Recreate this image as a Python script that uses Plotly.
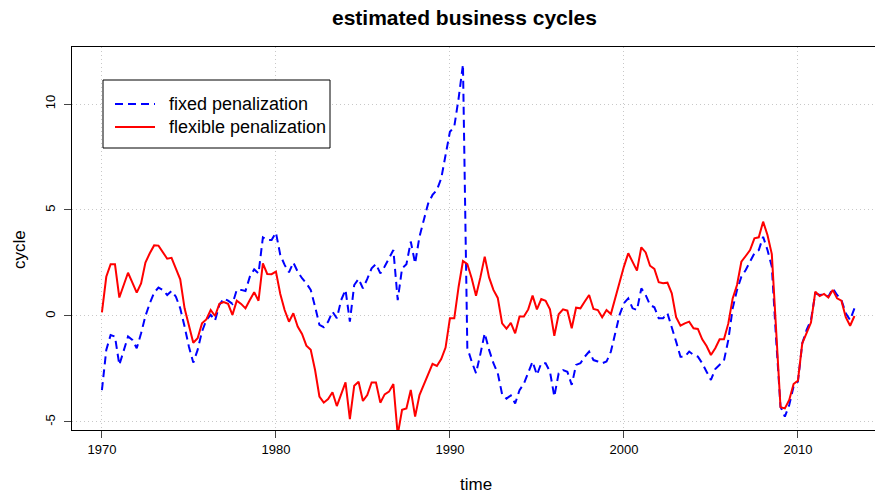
import plotly.graph_objects as go

# ---- data (quarterly, 1970Q1 .. 2013Q2) ----
start_year = 1970
fixed_pen = [
    -3.50, -1.60, -0.90, -0.97,   # 1970
    -2.31, -1.60, -0.97, -1.13,   # 1971
    -1.52, -0.82, 0.00, 0.60,     # 1972
    1.10, 1.34, 1.23, 0.99,       # 1973
    1.18, 0.91, 0.36, -0.50,      # 1974
    -1.45, -2.20, -1.60, -0.74,   # 1975
    -0.19, 0.05, -0.22, 0.52,     # 1976
    0.83, 0.72, 0.57, 1.23,       # 1977
    1.23, 1.18, 1.85, 2.20,       # 1978
    2.01, 3.71, 3.58, 3.58,       # 1979
    3.93, 2.88, 2.41, 2.06,       # 1980
    2.52, 2.09, 1.78, 1.54,       # 1981
    1.23, 0.44, -0.42, -0.53,     # 1982
    -0.27, 0.20, -0.11, 0.75,     # 1983
    1.23, -0.27, 1.46, 1.75,      # 1984
    1.30, 1.75, 2.25, 2.45,       # 1985
    2.01, 2.33, 2.72, 3.11,       # 1986
    0.75, 2.25, 2.44, 3.51,       # 1987
    2.48, 3.74, 4.53, 5.31,       # 1988
    5.71, 5.94, 6.49, 7.59,       # 1989
    8.69, 8.93, 10.27, 11.87,     # 1990
    -1.50, -2.15, -2.70, -1.80,   # 1991
    -0.82, -1.60, -2.23, -2.70,   # 1992
    -3.70, -3.90, -3.75, -4.13,   # 1993
    -3.50, -3.20, -2.70, -2.15,   # 1994
    -2.78, -2.23, -2.23, -2.63,   # 1995
    -3.80, -2.70, -2.55, -2.63,   # 1996
    -3.25, -2.31, -2.23, -1.92,   # 1997
    -1.68, -2.08, -2.15, -2.23,   # 1998
    -2.15, -1.68, -0.82, 0.05,    # 1999
    0.60, 0.83, 0.36, 0.28,       # 2000
    1.30, 0.99, 0.52, 0.41,       # 2001
    -0.11, -0.11, 0.13, -0.50,    # 2002
    -1.21, -1.92, -1.92, -1.68,   # 2003
    -1.84, -1.92, -2.23, -2.63,   # 2004
    -3.02, -2.50, -2.30, -2.10,   # 2005
    -1.13, 0.36, 1.23, 1.85,      # 2006
    2.17, 2.56, 2.96, 3.11,       # 2007
    3.74, 3.11, 2.33, -1.13,      # 2008
    -4.28, -4.75, -4.20, -3.33,   # 2009
    -3.10, -1.29, -0.66, -0.19,   # 2010
    1.07, 0.99, 1.02, 0.91,       # 2011
    1.30, 0.99, 0.75, 0.13,       # 2012
    -0.19, 0.36,                  # 2013
]
flexible_pen = [
    0.17, 1.85, 2.44, 2.44,       # 1970
    0.87, 1.46, 2.04, 1.57,       # 1971
    1.10, 1.54, 2.52, 2.96,       # 1972
    3.33, 3.32, 3.03, 2.70,       # 1973
    2.74, 2.25, 1.73, 0.36,       # 1974
    -0.50, -1.26, -1.05, -0.35,   # 1975
    -0.16, 0.28, 0.00, 0.57,      # 1976
    0.65, 0.57, 0.05, 0.72,       # 1977
    0.57, 0.36, 0.75, 1.12,       # 1978
    0.72, 2.48, 1.98, 1.97,       # 1979
    2.09, 1.04, 0.28, -0.27,      # 1980
    0.13, -0.50, -0.85, -1.40,    # 1981
    -1.60, -2.55, -3.80, -4.09,   # 1982
    -3.92, -3.60, -4.25, -3.68,   # 1983
    -3.13, -4.87, -3.29, -3.10,   # 1984
    -4.01, -3.73, -3.14, -3.14,   # 1985
    -4.09, -3.70, -3.57, -3.21,   # 1986
    -5.60, -4.43, -4.36, -3.49,   # 1987
    -4.75, -3.73, -3.25, -2.75,   # 1988
    -2.26, -2.36, -2.03, -1.49,   # 1989
    -0.11, -0.11, 1.38, 2.59,     # 1990
    2.45, 1.78, 0.95, 1.82,       # 1991
    2.80, 1.82, 1.23, 0.85,       # 1992
    -0.35, -0.60, -0.33, -0.82,   # 1993
    -0.03, -0.03, 0.31, 0.96,     # 1994
    0.31, 0.80, 0.72, 0.31,       # 1995
    -0.94, 0.08, 0.31, 0.25,      # 1996
    -0.58, 0.39, 0.36, 0.68,      # 1997
    0.99, 0.33, 0.28, -0.06,      # 1998
    0.28, 0.09, 0.83, 1.62,       # 1999
    2.33, 2.96, 2.52, 2.14,       # 2000
    3.24, 3.00, 2.37, 2.22,       # 2001
    1.59, 1.54, 1.57, 1.07,       # 2002
    -0.06, -0.46, -0.35, -0.27,   # 2003
    -0.58, -0.61, -1.10, -1.42,   # 2004
    -1.84, -1.52, -1.10, -1.10,   # 2005
    -0.35, 0.83, 1.46, 2.56,      # 2006
    2.83, 3.11, 3.66, 3.71,       # 2007
    4.45, 3.82, 2.92, -0.69,      # 2008
    -4.31, -4.36, -3.96, -3.21,   # 2009
    -3.05, -1.29, -0.79, -0.31,   # 2010
    1.15, 0.94, 1.04, 0.87,       # 2011
    1.23, 0.83, 0.72, -0.06,      # 2012
    -0.46, 0.00,                  # 2013
]
time = [start_year + i / 4 for i in range(len(fixed_pen))]
x_ticks = [1970, 1980, 1990, 2000, 2010]
y_ticks = [-5, 0, 5, 10]
series_names = ["fixed penalization", "flexible penalization"]

# ---- layout geometry (pixels) ----
W, H = 875, 494
L, R, T, B = 72, 0, 47, 64
PW, PH = W - L - R, H - T - B
FONT = "Liberation Sans, Arial, Helvetica, sans-serif"


def px(xp):
    return (xp - L) / PW


def py(yp):
    return (H - B - yp) / PH


BLUE, RED = "#0000FF", "#FF0000"
DASH = "8px,5px"
GRID_DOT = "1px,3px"

fig = go.Figure()
fig.add_trace(go.Scatter(x=time, y=fixed_pen, mode="lines", name=series_names[0],
                         line=dict(color=BLUE, width=2, dash=DASH),
                         showlegend=False))
fig.add_trace(go.Scatter(x=time, y=flexible_pen, mode="lines", name=series_names[1],
                         line=dict(color=RED, width=2),
                         showlegend=False))

fig.update_layout(
    width=W, height=H,
    margin=dict(l=L, r=R, t=T, b=B, pad=0),
    paper_bgcolor="white", plot_bgcolor="white",
    font=dict(family=FONT, color="black", size=13),
    showlegend=False,
)
fig.update_xaxes(
    range=[1968.28, 2014.43], tickvals=x_ticks, ticktext=[str(v) for v in x_ticks],
    showgrid=True, gridcolor="#C8C8C8", griddash=GRID_DOT, gridwidth=1,
    zeroline=False, showline=True, mirror=True, linecolor="black", linewidth=1,
    ticks="outside", ticklen=7, tickcolor="#444", tickfont=dict(size=13),
)
fig.update_yaxes(
    range=[-5.38, 12.69], tickvals=y_ticks, ticktext=[str(v) for v in y_ticks],
    showgrid=True, gridcolor="#C8C8C8", griddash=GRID_DOT, gridwidth=1,
    zeroline=False, showline=True, mirror=True, linecolor="black", linewidth=1,
    ticks="outside", ticklen=7, tickcolor="#444", tickfont=dict(size=13),
    tickangle=-90, ticklabelstandoff=4,
)

ann = []
ann.append(dict(text="<b>estimated business cycles</b>", x=px(464), y=py(18),
                xref="paper", yref="paper", showarrow=False,
                font=dict(size=21), xanchor="center", yanchor="middle"))
ann.append(dict(text="time", x=px(476), y=py(484), xref="paper", yref="paper",
                showarrow=False, font=dict(size=17), xanchor="center", yanchor="middle"))
ann.append(dict(text="cycle", x=px(19), y=py(250), xref="paper", yref="paper",
                showarrow=False, font=dict(size=17), textangle=-90,
                xanchor="center", yanchor="middle"))
# legend (drawn by hand, R style)
shapes = [dict(type="rect", xref="paper", yref="paper", x0=px(103), x1=px(330),
               y0=py(148), y1=py(80), line=dict(color="black", width=1),
               fillcolor="white", layer="above")]
for yy, col, dash, name in [(104, BLUE, DASH, series_names[0]),
                            (127, RED, "solid", series_names[1])]:
    shapes.append(dict(type="line", xref="paper", yref="paper", x0=px(115), x1=px(155),
                       y0=py(yy), y1=py(yy), line=dict(color=col, width=2, dash=dash),
                       layer="above"))
    ann.append(dict(text=name, x=px(167), y=py(yy), xref="paper", yref="paper",
                    showarrow=False, font=dict(size=18), xanchor="left", yanchor="middle"))
fig.update_layout(annotations=ann, shapes=shapes)

fig.write_html("out.html", config={"displayModeBar": False, "staticPlot": True},
               post_script="document.body.style.margin='0';document.body.style.padding='0';")
